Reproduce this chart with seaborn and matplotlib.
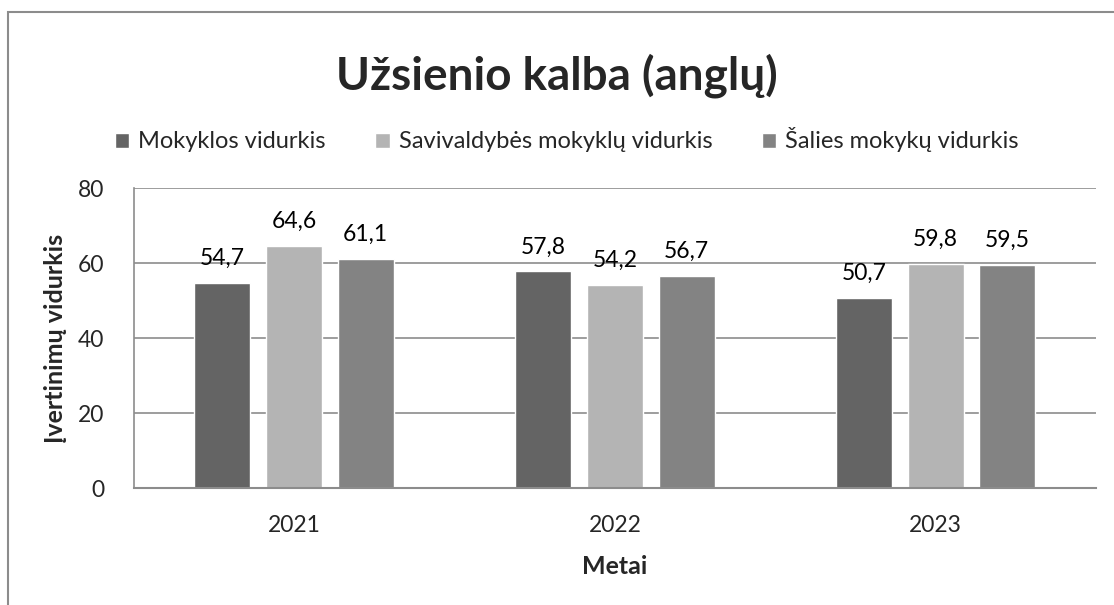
import pandas as pd
import seaborn as sns
import matplotlib.pyplot as plt
from matplotlib.patches import Rectangle

years = ["2021", "2022", "2023"]
series_names = ["Mokyklos vidurkis", "Savivaldybės mokyklų vidurkis", "Šalies mokykų vidurkis"]
mokyklos = [54.7, 57.8, 50.7]
savivaldybes = [64.6, 54.2, 59.8]
salies = [61.1, 56.7, 59.5]
colors = ["#646464", "#b4b4b4", "#838383"]


def build_frame():
    rows = []
    for name, vals in zip(series_names, [mokyklos, savivaldybes, salies]):
        for y, v in zip(years, vals):
            rows.append({"Metai": y, "serija": name, "reiksme": v})
    return pd.DataFrame(rows)


def main():
    df = build_frame()
    sns.set_style("white")
    plt.rcParams["font.family"] = ["Lato", "DejaVu Sans"]

    fig = plt.figure(figsize=(11.14, 6.05), dpi=100)
    ax = fig.add_axes([0.120, 0.193, 0.864, 0.496])

    sns.barplot(data=df, x="Metai", y="reiksme", hue="serija", hue_order=series_names,
                palette=colors, width=0.67, gap=0.22, saturation=1, ax=ax,
                legend=True, errorbar=None)

    for cont in ax.containers:
        labels = [f"{b.get_height():.1f}".replace(".", ",") for b in cont]
        ax.bar_label(cont, labels=labels, padding=10, fontsize=16.5, color="black")

    ax.set_ylim(0, 80)
    ax.set_yticks([0, 20, 40, 60, 80])
    ax.yaxis.grid(True, color="#8c8c8c", linewidth=1.2)
    ax.set_axisbelow(True)
    for side in ["top", "right"]:
        ax.spines[side].set_visible(False)
    ax.spines["left"].set_color("#8c8c8c")
    ax.spines["bottom"].set_color("#8c8c8c")
    ax.spines["left"].set_linewidth(1.2)
    ax.spines["bottom"].set_linewidth(1.5)
    ax.tick_params(axis="both", length=0, labelsize=16.5)
    ax.tick_params(axis="x", pad=19)
    ax.tick_params(axis="y", pad=21)

    ax.set_xlabel("Metai", fontsize=18, fontweight="bold", labelpad=14)
    ax.set_ylabel("Įvertinimų vidurkis", fontsize=18, fontweight="bold", labelpad=8)

    ax.legend(loc="center", bbox_to_anchor=(0.45, 1.161), ncol=3, frameon=False,
              fontsize=17, handlelength=0.6, handleheight=0.6, handletextpad=0.38,
              columnspacing=2.1, borderaxespad=0, borderpad=0)

    fig.suptitle("Užsienio kalba (anglų)", x=0.5, y=0.912, fontsize=33, fontweight="bold")

    fig.patches.append(Rectangle((8 / 1114, -0.1), 1.2, 1.1 - 12 / 605,
                                 transform=fig.transFigure, fill=False,
                                 edgecolor="#8c8c8c", linewidth=1.5, clip_on=False))

    fig.savefig("out.png", dpi=100)
    plt.close(fig)


if __name__ == "__main__":
    main()
